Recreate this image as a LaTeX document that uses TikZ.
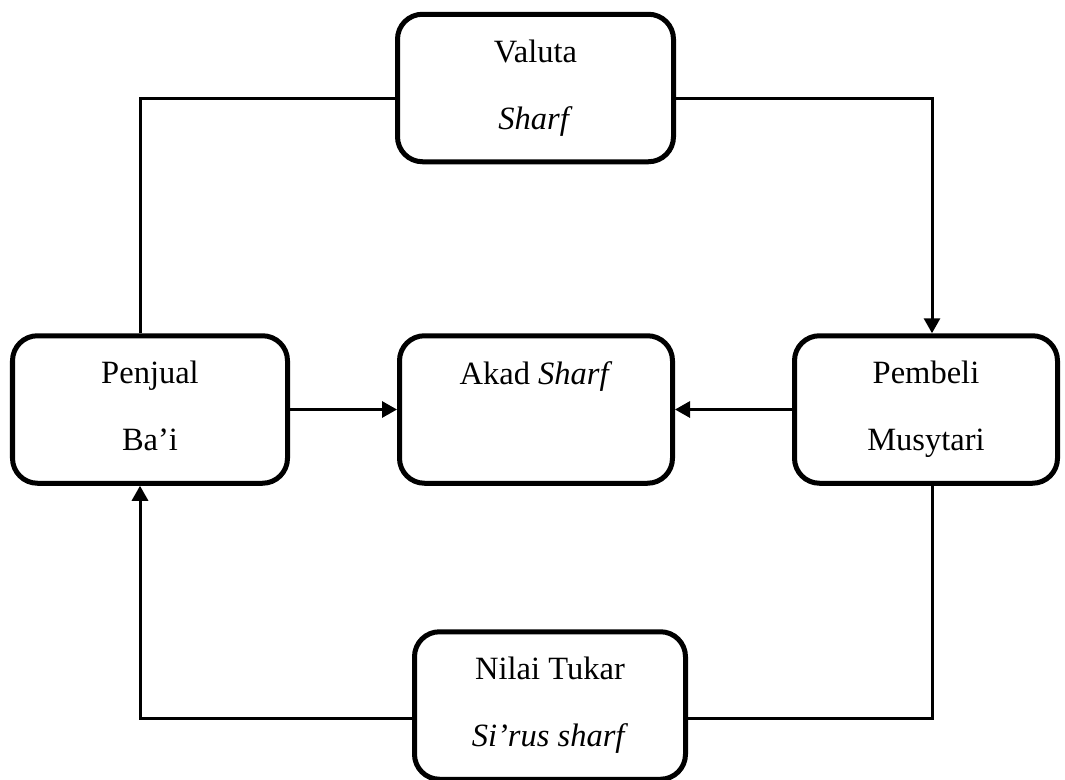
\documentclass[tikz,border=0pt]{standalone}
\usepackage{fontspec}
\setmainfont{Liberation Serif}
\usetikzlibrary{arrows.meta, positioning, calc}

\begin{document}
\begin{tikzpicture}[
    akadbox/.style={draw, line width=0.1cm, rounded corners=0.5cm, align=center, inner sep=0pt, minimum height=2.95cm, font={\fontsize{18.5pt}{38pt}\selectfont}},
    link/.style={line width=0.06cm},
    flow/.style={link, -{Triangle[length=0.3cm, width=0.32cm]}},
]
    \useasboundingbox (0,0) rectangle (21.3,-15.58);

    % Top: currency
    \node[akadbox, minimum width=5.52cm] (valuta) at (10.71,-1.76) {Valuta\\ \textit{Sharf}\vphantom{y}};

    % Middle row: seller, contract, buyer
    \node[akadbox, minimum width=5.5cm] (penjual) at (3.0,-8.19) {Penjual\\ Ba’i\vphantom{y}};
    \node[akadbox, minimum width=5.46cm] (akad) at (10.72,-8.19) {Akad \textit{Sharf}\\ \vphantom{y}};
    \node[akadbox, minimum width=5.26cm] (pembeli) at (18.52,-8.19) {Pembeli\\ Musytari};

    % Bottom: exchange rate
    \node[akadbox, minimum width=5.42cm] (nilai) at (11.0,-14.11) {Nilai Tukar\\ \textit{Si’rus sharf}\vphantom{y}};

    % connectors
    \draw[link] ([xshift=-0.2cm]penjual.north) |- ([yshift=-0.2cm]valuta.west);
    \draw[flow] ([yshift=-0.2cm]valuta.east) -| ([xshift=0.12cm]pembeli.north);
    \draw[flow] (penjual) -- (akad);
    \draw[flow] (pembeli) -- (akad);
    \draw[link] ([xshift=0.12cm]pembeli.south) |- ([yshift=-0.25cm]nilai.east);
    \draw[flow] ([yshift=-0.25cm]nilai.west) -| ([xshift=-0.2cm]penjual.south);
\end{tikzpicture}
\end{document}
